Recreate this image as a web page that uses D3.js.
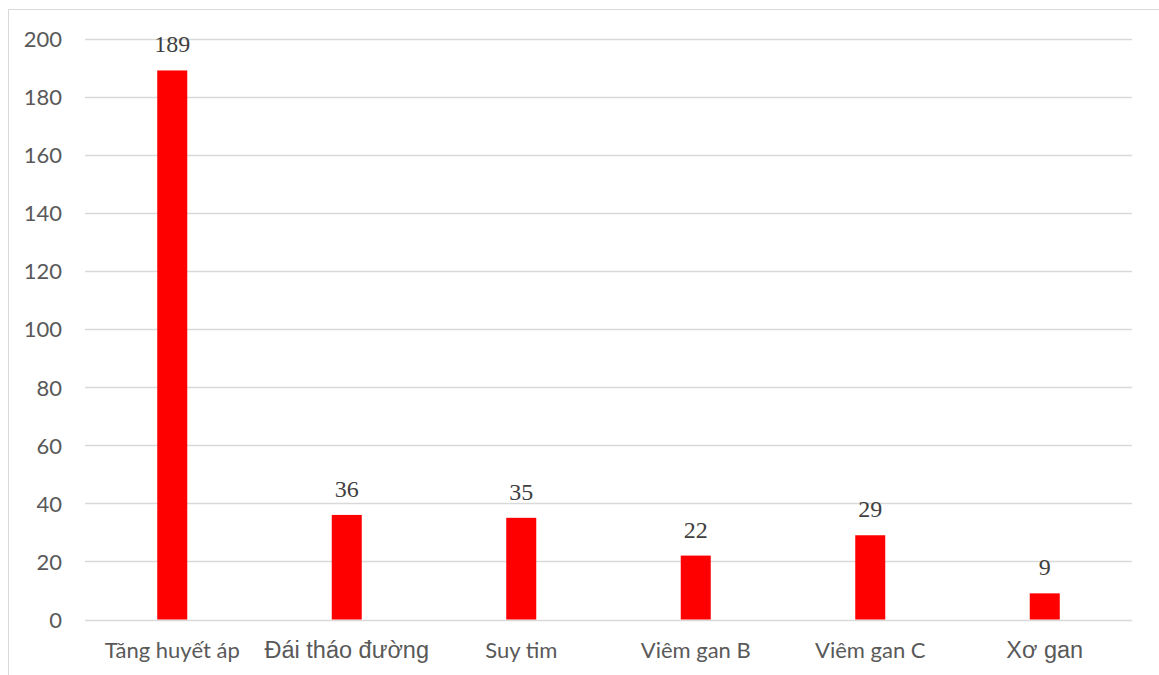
<!DOCTYPE html>
<html>
<head>
<meta charset="utf-8">
<script src="https://cdn.jsdelivr.net/npm/d3@7"></script>
<style>
  html, body { margin: 0; padding: 0; background: #fff; }
  svg { display: block; }
</style>
</head>
<body>
<svg id="chart" width="1159" height="675"></svg>
<script>
const categories = ["Tăng huyết áp", "Đái tháo đường", "Suy tim", "Viêm gan B", "Viêm gan C", "Xơ gan"];
const values = [189, 36, 35, 22, 29, 9];
const yTicks = [0, 20, 40, 60, 80, 100, 120, 140, 160, 180, 200];
const largeLabels = ["Đái tháo đường", "Xơ gan"];

const svg = d3.select("#chart");
const plot = { left: 85, right: 1132, top: 38.5, bottom: 619.5 };

// outer frame (top + left visible)
svg.append("line").attr("x1", 8.5).attr("x2", 1159).attr("y1", 9.5).attr("y2", 9.5)
  .attr("stroke", "#d9d9d9").attr("stroke-width", 1);
svg.append("line").attr("x1", 8.5).attr("x2", 8.5).attr("y1", 9.5).attr("y2", 675)
  .attr("stroke", "#d9d9d9").attr("stroke-width", 1);

const x = d3.scaleBand().domain(categories).range([plot.left, plot.right]).paddingInner(0).paddingOuter(0);
const y = d3.scaleLinear().domain([0, 200]).range([plot.bottom, plot.top]);

// gridlines
svg.append("g").selectAll("line").data(yTicks).join("line")
  .attr("x1", plot.left).attr("x2", plot.right)
  .attr("y1", d => Math.round(y(d)) + 0.5).attr("y2", d => Math.round(y(d)) + 0.5)
  .attr("stroke", "#d9d9d9").attr("stroke-width", 1.5);

// y axis labels
const yAxis = d3.axisLeft(y).tickValues(yTicks).tickSize(0).tickPadding(0);
const gy = svg.append("g").attr("transform", "translate(62,0)").call(yAxis);
gy.select(".domain").remove();
gy.selectAll("text")
  .attr("font-family", "Lato, 'Open Sans', sans-serif").attr("font-size", 22)
  .attr("fill", "#595959").attr("dy", "0.36em");

// bars
const barW = 30;
svg.append("g").selectAll("rect").data(values).join("rect")
  .attr("x", (d, i) => x(categories[i]) + x.bandwidth() / 2 - barW / 2)
  .attr("width", barW)
  .attr("y", d => y(d))
  .attr("height", d => y(0) - y(d))
  .attr("fill", "#ff0000");

// value labels
svg.append("g").selectAll("text").data(values).join("text")
  .attr("x", (d, i) => x(categories[i]) + x.bandwidth() / 2)
  .attr("y", d => y(d) - 18)
  .attr("text-anchor", "middle")
  .attr("font-family", "'Liberation Serif', 'Times New Roman', serif")
  .attr("font-size", 24)
  .attr("fill", "#404040")
  .text(d => d);

// x axis labels
const xAxis = d3.axisBottom(x).tickSize(0).tickPadding(0);
const gx = svg.append("g").attr("transform", `translate(0,${plot.bottom})`).call(xAxis);
gx.select(".domain").remove();
gx.selectAll("text")
  .attr("y", 38.5).attr("dy", 0)
  .attr("font-family", d => largeLabels.includes(d) ? "'Liberation Sans', Arial, sans-serif" : "Lato, 'Open Sans', sans-serif")
  .attr("font-size", d => largeLabels.includes(d) ? 23.5 : 22)
  .attr("fill", "#595959");
</script>
</body>
</html>
